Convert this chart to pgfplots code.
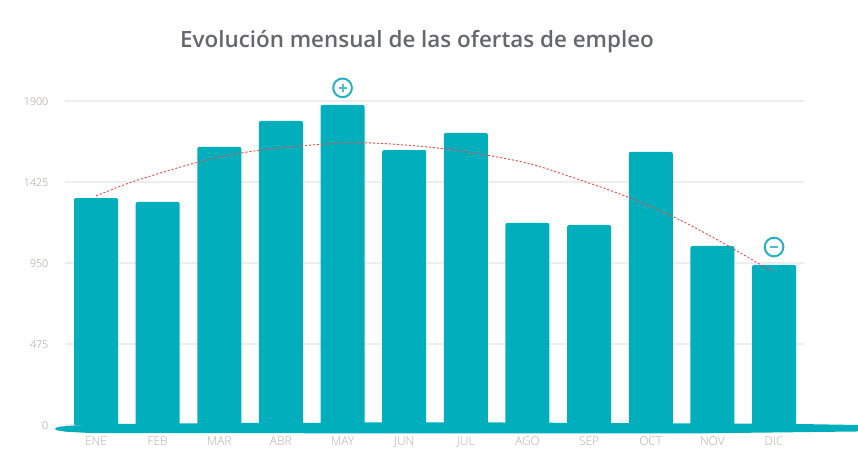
\documentclass[border=0pt]{standalone}
\usepackage{pgfplots}
\pgfplotsset{compat=1.18}
\usepackage{fontspec}
\setmainfont{Open Sans}
\newfontfamily\lightfont{Open Sans Light}
\newfontfamily\titlefont{Open Sans Semibold}
\definecolor{barteal}{HTML}{00AFBB}
\definecolor{iconteal}{HTML}{25B1C4}
\definecolor{iconsign}{HTML}{4BBFCD}
\definecolor{gridgray}{HTML}{EEEEEE}
\definecolor{ticktext}{HTML}{B2AEA8}
\definecolor{ylabeltext}{HTML}{9E9A94}
\definecolor{titletext}{HTML}{66676E}
\definecolor{trendred}{HTML}{EE4B4B}
\begin{document}
\begin{tikzpicture}
\useasboundingbox (0,0) rectangle (643.5pt,345.75pt);
\begin{axis}[
    at={(48.75pt,26.625pt)},
    anchor=south west,
    scale only axis,
    width=554.25pt,
    height=243.375pt,
    clip=false,
    xmin=-0.503, xmax=11.486,
    ymin=0, ymax=1900,
    xtick={0,1,2,3,4,5,6,7,8,9,10,11},
    xticklabels={ENE,FEB,MAR,ABR,MAY,JUN,JUL,AGO,SEP,OCT,NOV,DIC},
    ytick={0,475,950,1425,1900},
    ymajorgrids,
    grid style={gridgray, line width=1.5pt},
    axis line style={draw=none},
    major tick length=0pt,
    tick style={draw=none},
    /pgf/number format/assume math mode=true,
    /pgf/number format/1000 sep={},
    xticklabel style={font=\lightfont\fontsize{9}{10}\selectfont, text=ticktext, yshift=-5.3pt},
    yticklabel style={font=\lightfont\fontsize{8}{10}\selectfont, text=ylabeltext, xshift=-9pt, yshift=-0.5pt},
    title={\titlefont Evolución mensual de las ofertas de empleo},
    title style={at={(axis description cs:0.4763,1.157)}, anchor=center, font=\fontsize{16.8}{20}\selectfont, text=titletext},
]
% base strip under the bars
\addplot [fill=barteal, draw=none] coordinates {
    (-0.665,-20)(-0.641,-12)(-0.568,-6)(-0.357,0)(0.357,9)(1.36,12)(2.36,15)(3.36,15)(4.36,18)(6.36,18)
    (11.36,9)(12.362,3)(12.362,-35)(9.8,-46)(4.93,-46)(-0.097,-44)(-0.503,-36)(-0.633,-28)
} -- cycle;
\addplot [ybar, bar width=33pt, bar shift=0pt, fill=barteal, draw=none, rounded corners=1.5pt] coordinates {
    (0,1332)(1,1309)(2,1631)(3,1783)(4,1877)(5,1613)(6,1713)(7,1186)(8,1174)(9,1602)(10,1051)(11,940)
};
% trend line
\addplot [trendred, line width=0.7pt, dash pattern=on 1.6pt off 1.4pt, smooth] coordinates {
    (0,1344)(0.633,1432)(1.687,1545)(2.498,1604)(3.31,1637)(4.234,1656)(5.094,1640)(5.905,1608)
    (6.99,1537)(7.93,1428)(8.61,1340)(9.47,1204)(10.29,1045)(10.98,899)
};
% max and min badges
\addplot [only marks, mark=*, mark size=9pt, color=white, mark options={fill=white, draw=white}] coordinates {(4,1977)(11,1045)};
\addplot [only marks, mark=*, mark size=7pt, color=iconteal, mark options={fill=white, draw=iconteal, line width=1.5pt}] coordinates {(4,1977)(11,1045)};
\addplot [only marks, mark=+, mark size=3pt, color=iconsign, mark options={draw=iconsign, line width=1.5pt}] coordinates {(4,1977)};
\addplot [only marks, mark=-, mark size=3pt, color=iconsign, mark options={draw=iconsign, line width=1.5pt}] coordinates {(11,1045)};
\end{axis}
\end{tikzpicture}
\end{document}
